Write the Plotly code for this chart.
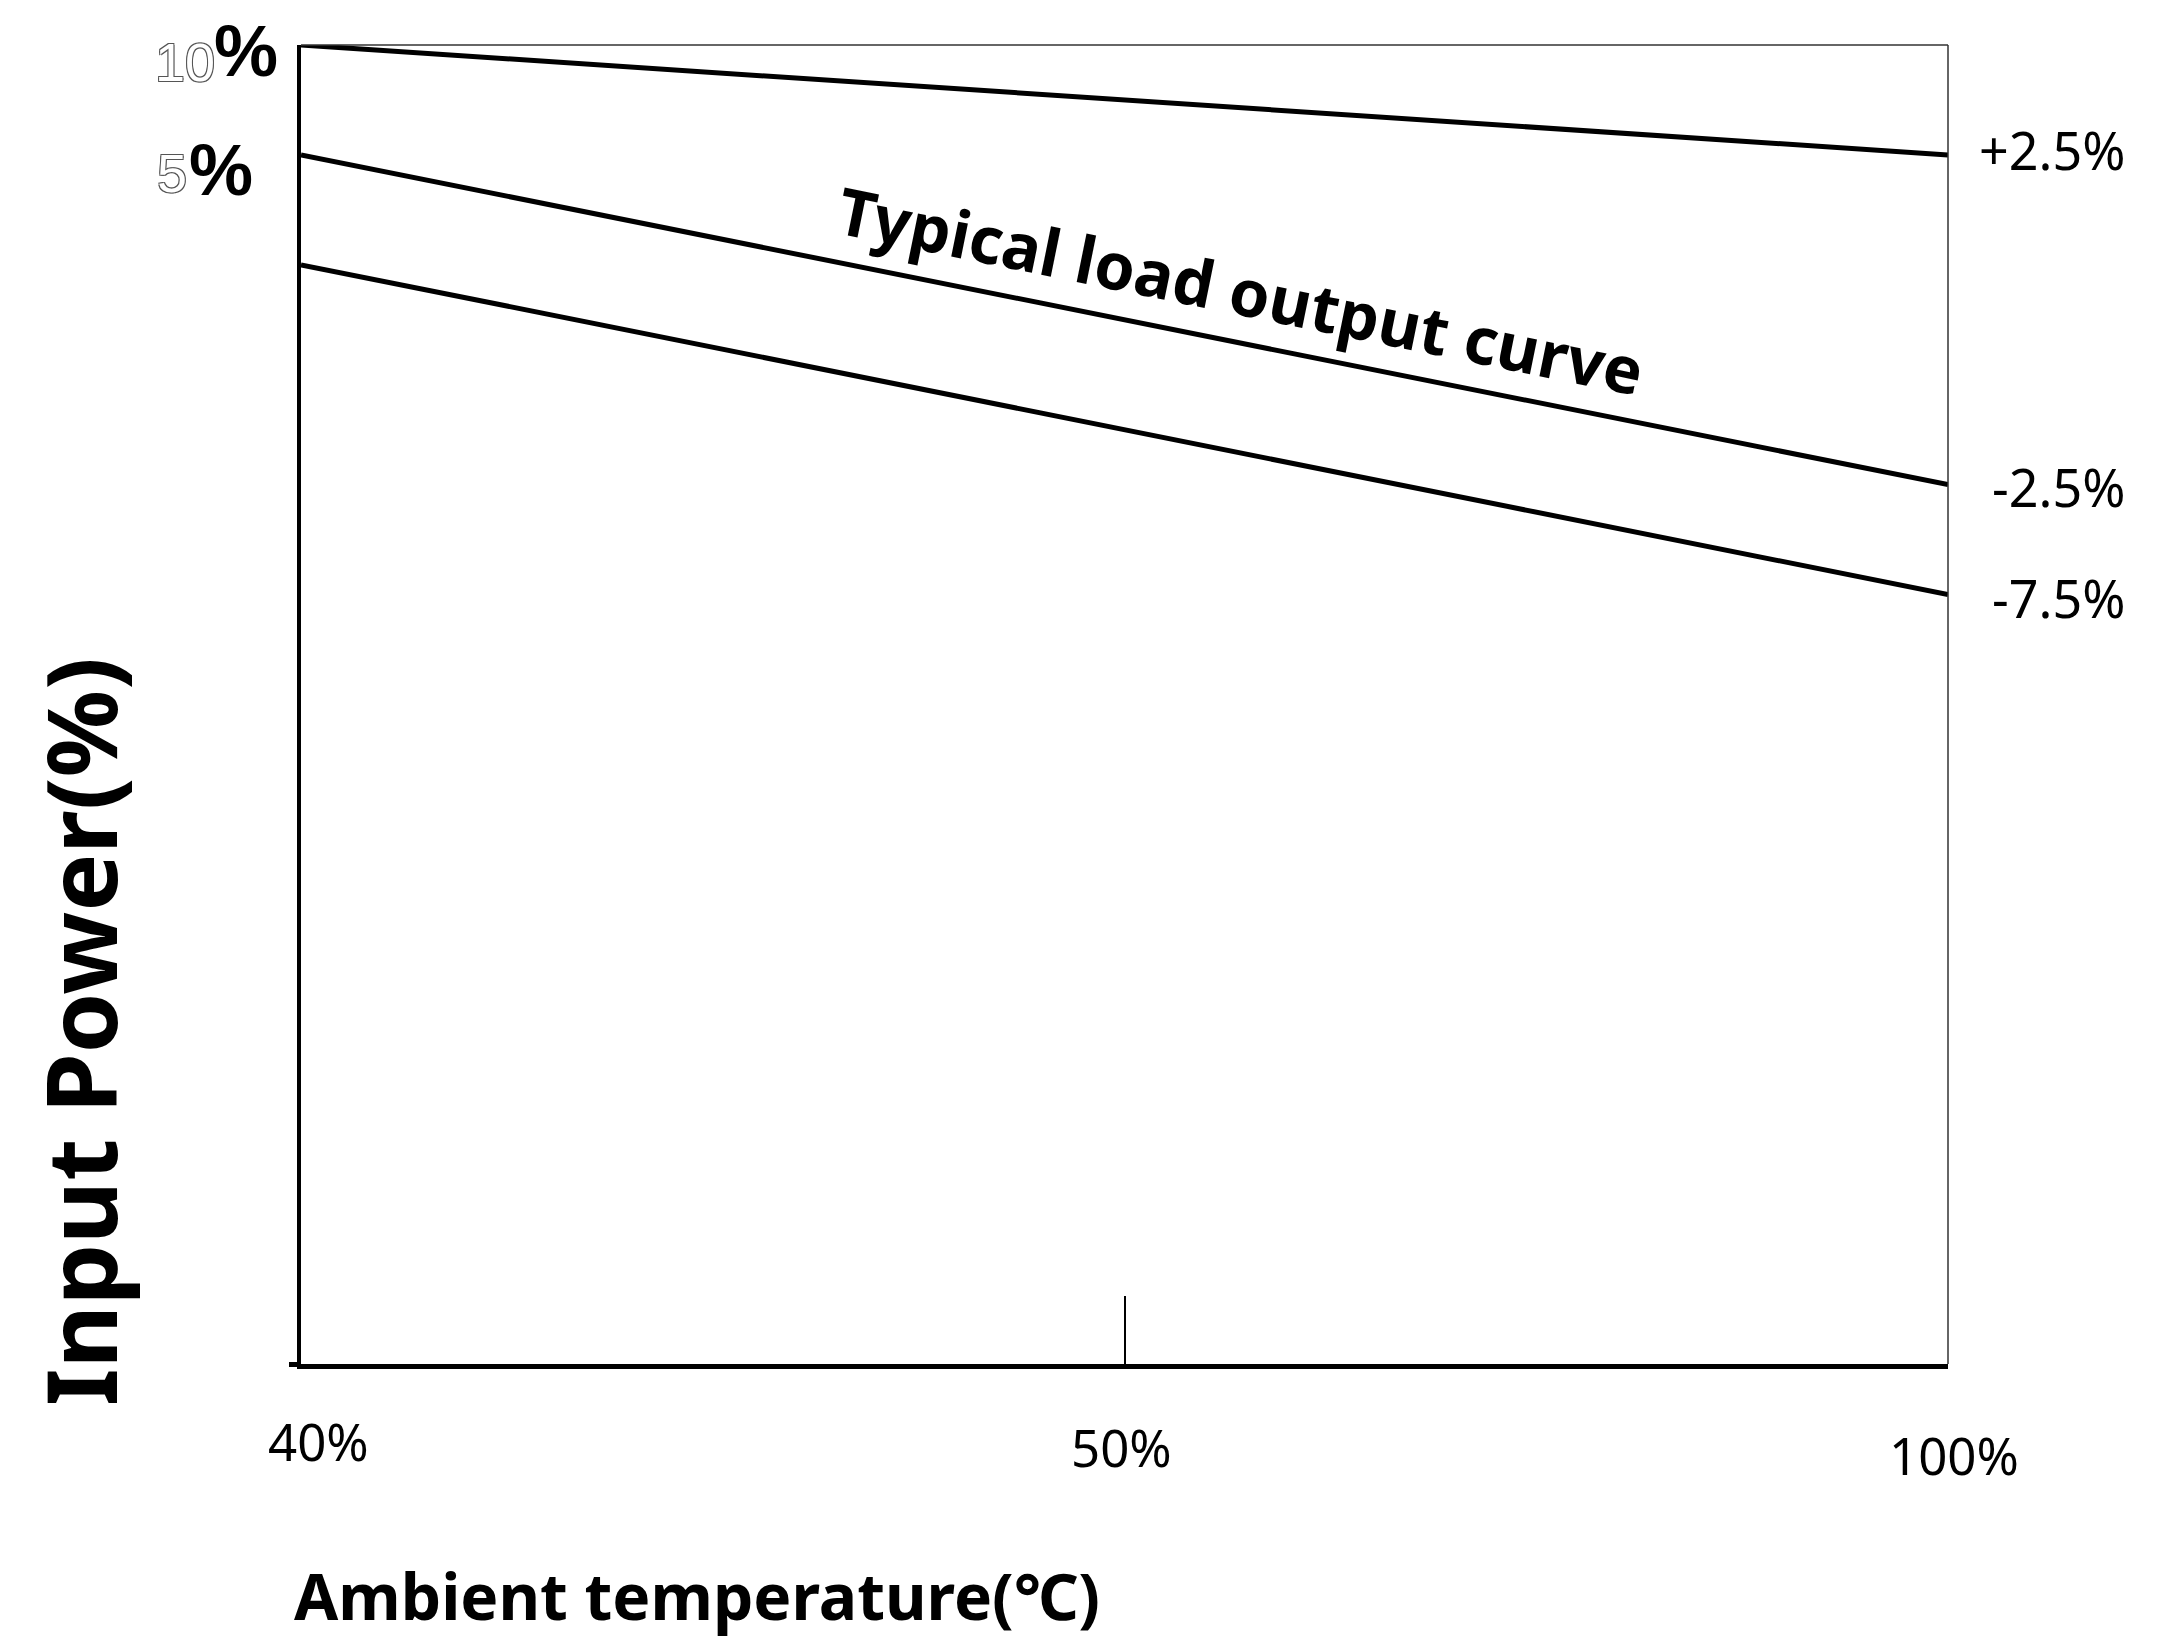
import plotly.graph_objects as go

# ---------------- data ----------------
x_pos = [0, 1, 2]
x_labels = ["40%", "50%", "100%"]
y_tick_vals = [10, 5]
y_tick_nums = ["10", "5"]
series_names = ["+2.5%", "-2.5%", "-7.5%"]
series_start = [10, 5, 0]
series_end = [5, -10, -15]
curve_label = "Typical load output curve"
x_title = "Ambient temperature(℃)"
y_title = "Input Power(%)"

# ---------------- styling ----------------
# the page body adds an 8px margin, so the figure is 8px smaller and margins are offset
W, H = 2149, 1640
ML, MR, MT, MB = 293, 209, 37, 284
SANS = "Noto Sans, Open Sans, sans-serif"
ARIAL = "Liberation Sans, Arial, sans-serif"
xlab_shift = [(17, -77), (-3, -83), (6, -91)]
ylab_num_shift = [(-148, -17), (-146, -18)]
ylab_pct_shift = [(-89, -6), (-114, -15)]
right_yshift = [5, -2, -3]

fig = go.Figure()
for name, s, e in zip(series_names, series_start, series_end):
    fig.add_trace(go.Scatter(
        x=[x_pos[0], x_pos[-1]], y=[s, e], mode="lines", name=name,
        line=dict(color="#000000", width=5), showlegend=False, hoverinfo="skip"))

ann = []
# right-hand series labels
for name, e, dy in zip(series_names, series_end, right_yshift):
    ann.append(dict(x=x_pos[-1], y=e, xref="x", yref="y", text=name, showarrow=False,
                    xanchor="right", yanchor="middle", xshift=179, yshift=dy,
                    font=dict(family=SANS, size=52, color="#000000")))
# x tick labels
for xp, lab, (dx, dy) in zip(x_pos, x_labels, xlab_shift):
    ann.append(dict(x=xp, y=0, xref="x", yref="paper", text=lab, showarrow=False,
                    xanchor="center", yanchor="middle", xshift=dx, yshift=dy,
                    font=dict(family=SANS, size=51, color="#000000")))
# y tick labels (outlined number + bold percent sign)
outline = "1px 1px 0 #555555, -1px -1px 0 #555555, 1px -1px 0 #555555, -1px 1px 0 #555555"
for yv, num, (dx1, dy1), (dx2, dy2) in zip(y_tick_vals, y_tick_nums, ylab_num_shift, ylab_pct_shift):
    ann.append(dict(x=0, y=yv, xref="paper", yref="y", text=num, showarrow=False,
                    xanchor="left", yanchor="middle", xshift=dx1, yshift=dy1,
                    font=dict(family=ARIAL, size=54, color="#ffffff", shadow=outline)))
    ann.append(dict(x=0, y=yv, xref="paper", yref="y", text="<b>%</b>", showarrow=False,
                    xanchor="left", yanchor="middle", xshift=dx2, yshift=dy2,
                    font=dict(family=ARIAL, size=72, color="#000000")))
# curve label
ann.append(dict(x=1.142, y=-1.15, xref="x", yref="y", text="<b>" + curve_label + "</b>",
                showarrow=False, textangle=11.5, xanchor="center", yanchor="middle",
                font=dict(family=SANS, size=65, color="#000000")))
# axis titles
ann.append(dict(x=0, y=0, xref="paper", yref="paper", text="<b>" + x_title + "</b>",
                showarrow=False, xanchor="left", yanchor="middle", xshift=-9, yshift=-231,
                font=dict(family=SANS, size=64, color="#000000")))
ann.append(dict(x=0, y=0.2517, xref="paper", yref="paper", text="<b>" + y_title + "</b>",
                showarrow=False, textangle=-90, xanchor="center", yanchor="middle", xshift=-222,
                font=dict(family=SANS, size=97, color="#000000")))

fig.update_layout(
    width=W, height=H,
    margin=dict(l=ML, r=MR, t=MT, b=MB, pad=0),
    plot_bgcolor="#ffffff", paper_bgcolor="#ffffff",
    annotations=ann,
    shapes=[
        dict(type="line", xref="paper", yref="paper", x0=0, x1=1, y0=1, y1=1,
             line=dict(color="#333333", width=1.5)),
        dict(type="line", xref="paper", yref="paper", x0=1, x1=1, y0=0, y1=1,
             line=dict(color="#333333", width=1.5)),
    ],
    xaxis=dict(range=[x_pos[0], x_pos[-1]], showgrid=False, zeroline=False,
               showline=True, linecolor="#000000", linewidth=5,
               tickmode="array", tickvals=[x_pos[1]], ticks="inside", ticklen=68,
               tickwidth=2, tickcolor="#000000", showticklabels=False),
    yaxis=dict(range=[-50, 10], showgrid=False, zeroline=False,
               showline=True, linecolor="#000000", linewidth=4,
               tickmode="array", tickvals=[-50], ticks="outside", ticklen=8,
               tickwidth=5, tickcolor="#000000", showticklabels=False),
)

fig.write_html("out.html")
